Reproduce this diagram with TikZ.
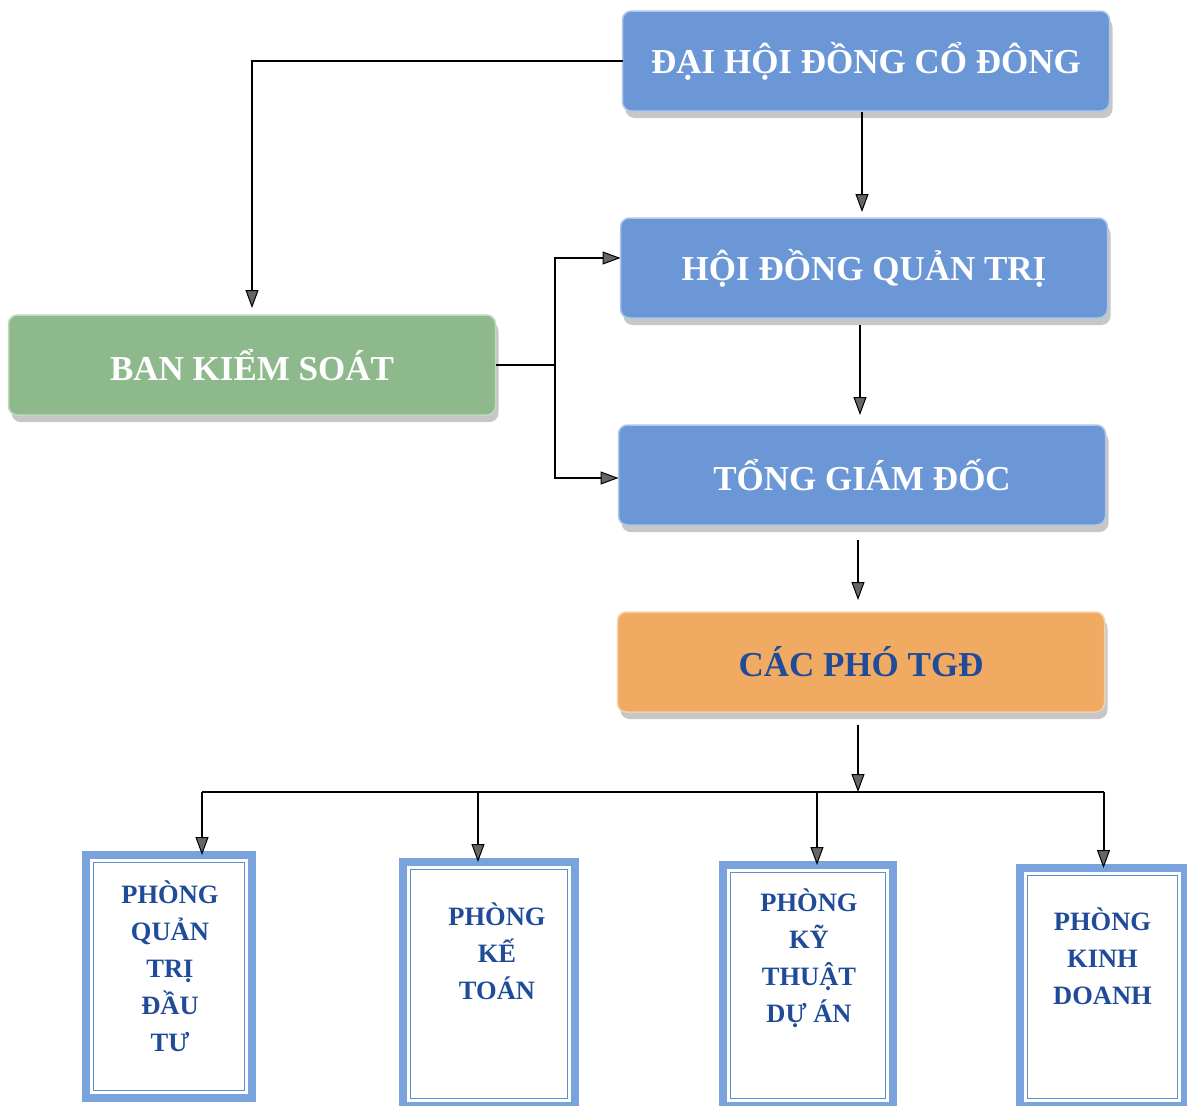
\documentclass[tikz,border=0pt]{standalone}
\usepackage{fontspec}
\setmainfont{Liberation Serif}
\usetikzlibrary{arrows.meta,shadows,calc}
\definecolor{topblue}{HTML}{6B97D6}
\definecolor{bksgreen}{HTML}{8DB98C}
\definecolor{phoorange}{HTML}{F1AA62}
\definecolor{darkblue}{HTML}{1F4B98}
\definecolor{frameblue}{HTML}{79A3DD}
\definecolor{innerblue}{HTML}{5E8DD2}
\tikzset{
  topbox/.style={rounded corners=9pt, minimum width=487pt, minimum height=100pt, outer sep=0pt,
    line width=1.5pt, font=\bfseries\fontsize{35}{40}\selectfont,
    drop shadow={shadow xshift=3pt, shadow yshift=-7pt, fill=black!40, opacity=0.55}},
  bluebox/.style={topbox, fill=topblue, draw=topblue!55!white, text=white},
  greenbox/.style={topbox, fill=bksgreen, draw=bksgreen!55!white, text=white},
  orangebox/.style={topbox, fill=phoorange, draw=phoorange!55!white, text=darkblue},
  deptbox/.style={draw=frameblue, line width=8pt, fill=white, outer sep=0pt, inner sep=0pt},
  innerframe/.style={draw=innerblue, line width=1.5pt},
  depttext/.style={inner sep=0pt, align=center, text=darkblue, font=\bfseries\fontsize{26.5}{37}\selectfont},
  line/.style={draw=black, line width=2pt},
  conn/.style={line, -{Triangle[length=18pt,width=13pt,fill=black!60,line width=1pt]}},
}
\begin{document}
\begin{tikzpicture}[x=1pt,y=-1pt]
\useasboundingbox (0,0) rectangle (1187,1106);
% main boxes
\node[bluebox] (dh) at (866,61) {ĐẠI HỘI ĐỒNG CỔ ĐÔNG};
\node[bluebox] (hd) at (864,268) {HỘI ĐỒNG QUẢN TRỊ};
\node[bluebox] (tg) at (862,475) {TỔNG GIÁM ĐỐC};
\node[orangebox] (pho) at (861,662) {CÁC PHÓ TGĐ};
\node[greenbox] (bks) at (252,365) {BAN KIỂM SOÁT};
% department boxes
\node[deptbox, minimum width=166pt, minimum height=243pt] (b1) at (169,976.5) {};
\node[deptbox, minimum width=172pt, minimum height=244pt] (b2) at (489,984) {};
\node[deptbox, minimum width=170pt, minimum height=241pt] (b3) at (808,985.5) {};
\node[deptbox, minimum width=165pt, minimum height=238pt] (b4) at (1102.5,987) {};
\foreach \b in {b1,b2,b3,b4}
  \draw[innerframe] ([xshift=7.5pt,yshift=-7.5pt]\b.north west) rectangle ([xshift=-7.5pt,yshift=7.5pt]\b.south east);
\node[depttext, anchor=north] (t1) at ([xshift=1pt,yshift=-26pt]b1.north) {PHÒNG\\QUẢN\\TRỊ\\ĐẦU\\TƯ};
\node[depttext, anchor=north] (t2) at ([xshift=8pt,yshift=-41pt]b2.north) {PHÒNG\\KẾ\\TOÁN};
\node[depttext, anchor=north] (t3) at ([xshift=1pt,yshift=-24pt]b3.north) {PHÒNG\\KỸ\\THUẬT\\DỰ ÁN};
\node[depttext, anchor=north] (t4) at ([yshift=-40pt]b4.north) {PHÒNG\\KINH\\DOANH};
% connectors
\draw[conn, shorten >=7pt] (dh.west) -| (bks.north);
\draw[conn, shorten >=6pt, shorten <=1pt] ([xshift=-4pt]dh.south) -- ([xshift=-2pt]hd.north);
\draw[conn, shorten <=7pt, shorten >=10pt] ([xshift=-4pt]hd.south) -- ([xshift=-2pt]tg.north);
\draw[conn, shorten <=15pt, shorten >=12pt] ([xshift=-4pt]tg.south) -- ([xshift=-3pt]pho.north);
\coordinate (jn) at ($(bks.east)+(59,0)$);
\draw[line] (bks.east) -- (jn);
\draw[conn] (jn) |- ([yshift=10pt]hd.west);
\draw[conn] (jn) |- ([yshift=-3pt]tg.west);
\coordinate (bus) at ($(pho.south)+(-3,80)$);
\draw[conn, shorten <=13pt] ([xshift=-3pt]pho.south) -- (bus);
\draw[line] ([xshift=33pt]b1.north |- bus) -- ([xshift=1pt]b4.north |- bus);
\draw[conn] ([xshift=33pt]b1.north |- bus) -- ([xshift=33pt]b1.north);
\draw[conn] ([xshift=-11pt]b2.north |- bus) -- ([xshift=-11pt]b2.north);
\draw[conn] ([xshift=9pt]b3.north |- bus) -- ([xshift=9pt]b3.north);
\draw[conn] ([xshift=1pt]b4.north |- bus) -- ([xshift=1pt]b4.north);
\end{tikzpicture}
\end{document}
